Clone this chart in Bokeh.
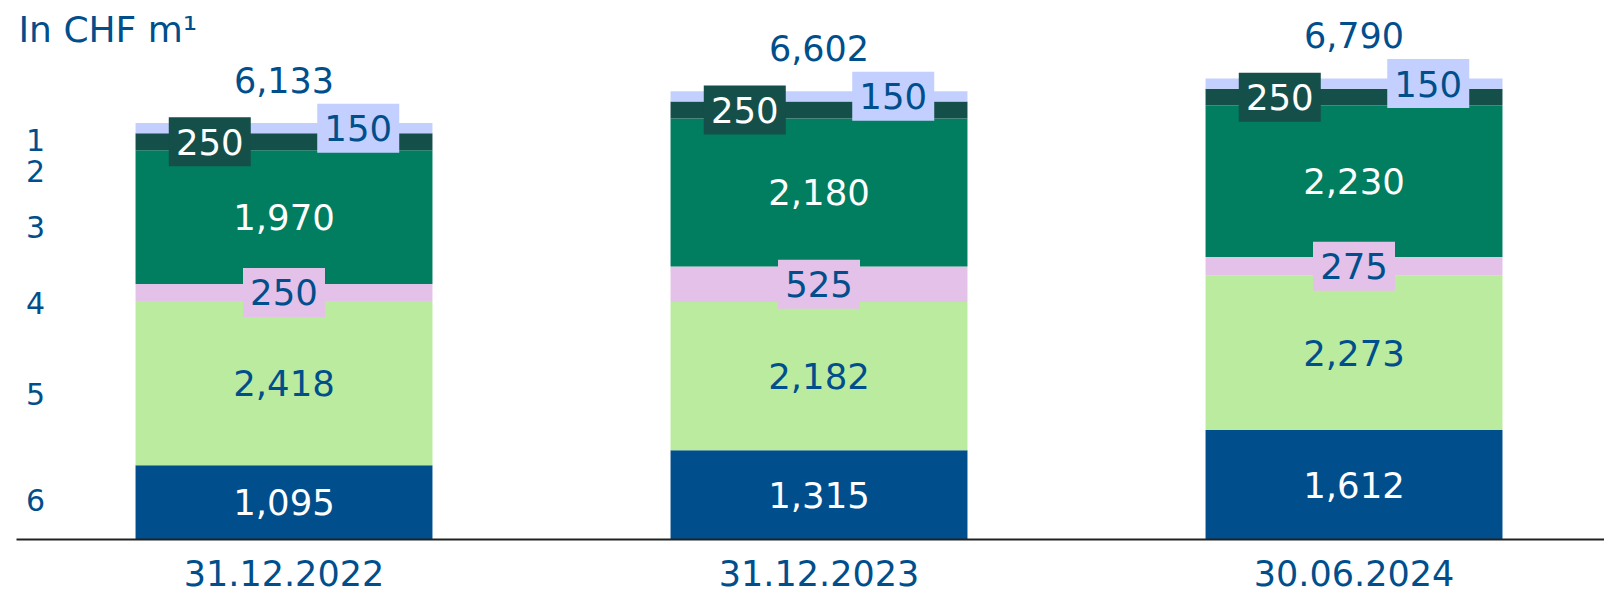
import numpy as np
from bokeh.plotting import figure
from bokeh.models import ColumnDataSource, Range1d, Label
from bokeh.core.properties import value
from bokeh.embed import file_html
from bokeh.resources import INLINE

# ---------------- data ----------------
categories = ["31.12.2022", "31.12.2023", "30.06.2024"]
series_names = ["6", "5", "4", "3", "2", "1"]          # bottom -> top
seg6 = [1095, 1315, 1612]
seg5 = [2418, 2182, 2273]
seg4 = [250, 525, 275]
seg3 = [1970, 2180, 2230]
seg2 = [250, 250, 250]
seg1 = [150, 150, 150]
totals = [6133, 6602, 6790]
title_text = "In CHF m\u00b9"

# ---------------- style ----------------
FONT_NAME = "DejaVu Sans"
FONT = value(FONT_NAME)
BLUE_TXT = "#004F8C"
colors = ["#004E8C", "#BBEB9F", "#E4C1E8", "#007E5F", "#154F4A", "#C3D0FF"]
text_colors = ["white", BLUE_TXT, BLUE_TXT, "white", "white", BLUE_TXT]
boxed = [False, False, True, False, True, True]
box_shift = [0, 0, 0, 0, -0.25, 0.25]        # fraction of bar width
left_label_offsets = [-2, 11, 11, 10, 29, 12]  # px, downwards
BAR_W = 0.555

W, H = 1604, 593
p = figure(width=W, height=H, output_backend="svg", toolbar_location=None,
           x_range=Range1d(-0.5299, 2.4682), y_range=Range1d(-795.3, 7938.1),
           min_border=0, outline_line_color=None, background_fill_color="white",
           border_fill_color="white")
p.axis.visible = False
p.grid.visible = False

xs = np.arange(len(categories), dtype=float)
seg_values = [seg6, seg5, seg4, seg3, seg2, seg1]

bottoms = np.zeros(len(categories))
layers = []
for k, vals in enumerate(seg_values):
    v = np.array(vals, dtype=float)
    tops = bottoms + v
    layers.append((bottoms.copy(), tops.copy(), v))
    src = ColumnDataSource(dict(x=xs, bottom=bottoms.copy(), top=tops.copy()))
    p.vbar(x="x", width=BAR_W, bottom="bottom", top="top", source=src,
           fill_color=colors[k], line_color=None)
    bottoms = tops

# value labels
for k, (b, t, v) in enumerate(layers):
    lx = xs + box_shift[k] * BAR_W
    src = ColumnDataSource(dict(x=lx, y=(b + t) / 2, label=[f"{int(a):,}" for a in v]))
    if boxed[k]:
        p.rect(x="x", y="y", width=82, height=49, width_units="screen",
               height_units="screen", source=src, fill_color=colors[k], line_color=None)
    p.text(x="x", y="y", text="label", source=src, text_font=FONT,
           text_font_size="35.5px", text_color=text_colors[k],
           text_align="center", text_baseline="middle")

# totals
tsrc = ColumnDataSource(dict(x=xs, y=totals, label=[f"{t:,}" for t in totals]))
p.text(x="x", y="y", text="label", source=tsrc, text_font=FONT, text_font_size="35px",
       text_color=BLUE_TXT, text_align="center", text_baseline="middle", y_offset=-43)

# baseline axis line
p.segment(x0=[-0.5], y0=[0], x1=[2.4682], y1=[0], line_color="#222222", line_width=2)

# category labels
csrc = ColumnDataSource(dict(x=xs, y=[0] * len(categories), label=categories))
p.text(x="x", y="y", text="label", source=csrc, text_font=FONT, text_font_size="35px",
       text_color=BLUE_TXT, text_align="center", text_baseline="middle", y_offset=34)

# left series labels, next to first bar
mids = [(b[0] + t[0]) / 2 for (b, t, v) in layers]
lsrc = ColumnDataSource(dict(x=[-0.5] * len(series_names), y=mids, label=series_names,
                             yo=left_label_offsets))
p.text(x="x", y="y", text="label", source=lsrc, text_font=FONT, text_font_size="30px",
       text_color=BLUE_TXT, text_align="center", text_baseline="middle",
       x_offset=19, y_offset="yo")

# title
p.add_layout(Label(x=18, y=H - 29, x_units="screen", y_units="screen", text=title_text,
                   text_font=FONT_NAME, text_font_size="36px", text_color=BLUE_TXT,
                   text_baseline="middle"))

open("out.html", "w").write(file_html(p, INLINE))
